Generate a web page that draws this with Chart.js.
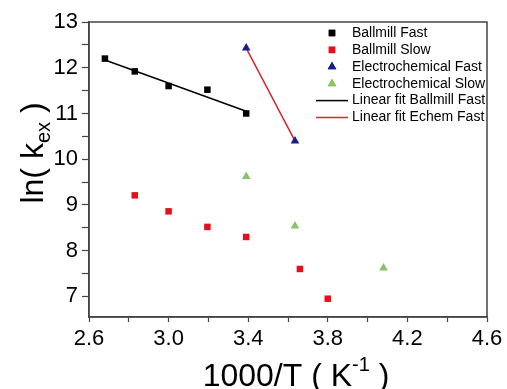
<!DOCTYPE html>
<html>
<head>
<meta charset="utf-8">
<script src="https://cdn.jsdelivr.net/npm/chart.js@4.4.1/dist/chart.umd.min.js"></script>
<style>
    html, body { margin: 0; padding: 0; background: #fff; }
    #box { width: 507px; height: 389px; }
</style>
</head>
<body>
<div id="box"><canvas id="myChart"></canvas></div>
<script>
// values
const ballmillFastX = [2.68, 2.83, 3.00, 3.195, 3.39];
const ballmillFastY = [12.20, 11.92, 11.60, 11.52, 11.00];
const ballmillSlowX = [2.83, 3.00, 3.195, 3.39, 3.66, 3.80];
const ballmillSlowY = [9.21, 8.86, 8.52, 8.30, 7.60, 6.95];
const echemFastX = [3.39, 3.635];
const echemFastY = [12.43, 10.40];
const echemSlowX = [3.39, 3.635, 4.08];
const echemSlowY = [9.62, 8.54, 7.62];
const fitBallmillX = [2.68, 3.39];
const fitBallmillY = [12.17, 11.05];
const fitEchemX = [3.39, 3.635];
const fitEchemY = [12.43, 10.40];

const xTicks = [2.6, 2.8, 3.0, 3.2, 3.4, 3.6, 3.8, 4.0, 4.2, 4.4, 4.6];
const xLabels = [2.6, 3.0, 3.4, 3.8, 4.2, 4.6];
const yTicks = [7, 7.5, 8, 8.5, 9, 9.5, 10, 10.5, 11, 11.5, 12, 12.5, 13];
const yLabels = [7, 8, 9, 10, 11, 12, 13];

const FONT = '"Liberation Sans", Arial, sans-serif';
const AXIS = '#444';

function pts(xs, ys) {
    return xs.map((x, i) => ({ x: x, y: ys[i] }));
}

function drawRich(ctx, parts, cx, base) {
    let total = 0;
    parts.forEach(p => {
        ctx.font = p.size + 'px ' + FONT;
        total += ctx.measureText(p.text).width;
    });
    let x = cx - total / 2;
    parts.forEach(p => {
        ctx.font = p.size + 'px ' + FONT;
        ctx.fillText(p.text, x, base + p.dy);
        x += ctx.measureText(p.text).width;
    });
}

const extras = {
    id: 'extras',
    afterDraw(chart) {
        const ctx = chart.ctx;
        const a = chart.chartArea;
        ctx.save();
        // frame
        ctx.strokeStyle = AXIS;
        ctx.lineWidth = 1.5;
        ctx.strokeRect(a.left, a.top, a.right - a.left, a.bottom - a.top);

        // axis titles
        ctx.fillStyle = '#000';
        ctx.textBaseline = 'alphabetic';
        ctx.textAlign = 'left';
        drawRich(ctx, [
            { text: '1000/T ( K', size: 32, dy: 0 },
            { text: '-1', size: 20, dy: -15 },
            { text: ' )', size: 32, dy: 0 }
        ], 296, 386);

        ctx.save();
        ctx.translate(43, 153);
        ctx.rotate(-Math.PI / 2);
        drawRich(ctx, [
            { text: 'ln( k', size: 32, dy: 0 },
            { text: 'ex', size: 20, dy: 7 },
            { text: ' )', size: 32, dy: 0 }
        ], 0, 0);
        ctx.restore();

        // legend
        const lx = 332, tx = 352, y0 = 33, dy = 16.9;
        ctx.font = '14px ' + FONT;
        ctx.textBaseline = 'middle';
        chart.data.datasets.forEach((ds, i) => {
            const y = y0 + i * dy;
            if (ds.showLine) {
                ctx.strokeStyle = ds.borderColor;
                ctx.lineWidth = ds.borderWidth;
                ctx.beginPath();
                ctx.moveTo(lx - 16, y);
                ctx.lineTo(lx + 16, y);
                ctx.stroke();
            } else {
                ctx.fillStyle = ds.backgroundColor;
                ctx.strokeStyle = ds.borderColor;
                ctx.lineWidth = 0;
                Chart.helpers.drawPoint(ctx, {
                    pointStyle: ds.pointStyle, radius: ds.pointRadius, borderWidth: 0
                }, lx, y);
                ctx.fill();
            }
            ctx.fillStyle = '#000';
            ctx.fillText(ds.label, tx, y);
        });
        ctx.restore();
    }
};

function scatterSet(label, data, style, color, radius) {
    return {
        label: label,
        data: data,
        pointStyle: style,
        pointRadius: radius,
        pointBackgroundColor: color,
        pointBorderWidth: 0,
        backgroundColor: color,
        borderColor: color,
        showLine: false,
        order: 0
    };
}

function fitSet(label, data, color) {
    return {
        label: label,
        data: data,
        showLine: true,
        borderColor: color,
        borderWidth: 1.5,
        pointRadius: 0,
        fill: false,
        order: 1
    };
}

function CreateChart() {
    const ctx = document.getElementById('myChart');
    new Chart(ctx, {
        type: 'scatter',
        data: {
            datasets: [
                scatterSet('Ballmill Fast', pts(ballmillFastX, ballmillFastY), 'rect', '#000000', 4.6),
                scatterSet('Ballmill Slow', pts(ballmillSlowX, ballmillSlowY), 'rect', '#e5101c', 4.6),
                scatterSet('Electrochemical Fast', pts(echemFastX, echemFastY), 'triangle', '#1c1c8a', 5),
                scatterSet('Electrochemical Slow', pts(echemSlowX, echemSlowY), 'triangle', '#88c36c', 5),
                fitSet('Linear fit Ballmill Fast', pts(fitBallmillX, fitBallmillY), '#000000'),
                fitSet('Linear fit Echem Fast', pts(fitEchemX, fitEchemY), '#d8262e')
            ]
        },
        options: {
            responsive: true,
            maintainAspectRatio: false,
            animation: false,
            layout: {
                padding: { top: 22, right: 20, left: 0, bottom: 0 }
            },
            scales: {
                x: {
                    type: 'linear',
                    min: 2.6,
                    max: 4.6,
                    afterBuildTicks: s => { s.ticks = xTicks.map(v => ({ value: v })); },
                    afterFit: s => { s.height = 72; },
                    grid: {
                        drawOnChartArea: false,
                        tickLength: 5,
                        tickColor: AXIS,
                        tickWidth: 1.2
                    },
                    border: { display: true, color: AXIS, width: 1.5 },
                    ticks: {
                        autoSkip: false,
                        maxRotation: 0,
                        padding: 4,
                        color: '#000',
                        font: { family: FONT, size: 22 },
                        callback: v => xLabels.some(l => Math.abs(l - v) < 1e-6) ? v.toFixed(1) : ''
                    }
                },
                y: {
                    type: 'linear',
                    min: 6.55,
                    max: 13,
                    afterBuildTicks: s => { s.ticks = yTicks.map(v => ({ value: v })); },
                    afterFit: s => { s.width = 89; },
                    grid: {
                        drawOnChartArea: false,
                        tickLength: 7,
                        tickColor: AXIS,
                        tickWidth: 1.2
                    },
                    border: { display: true, color: AXIS, width: 1.5 },
                    ticks: {
                        autoSkip: false,
                        padding: 4,
                        color: '#000',
                        font: { family: FONT, size: 22 },
                        callback: v => yLabels.includes(v) ? String(v) : ''
                    }
                }
            },
            plugins: {
                legend: { display: false },
                tooltip: { enabled: false }
            }
        },
        plugins: [extras]
    });
}

CreateChart();
</script>
</body>
</html>
